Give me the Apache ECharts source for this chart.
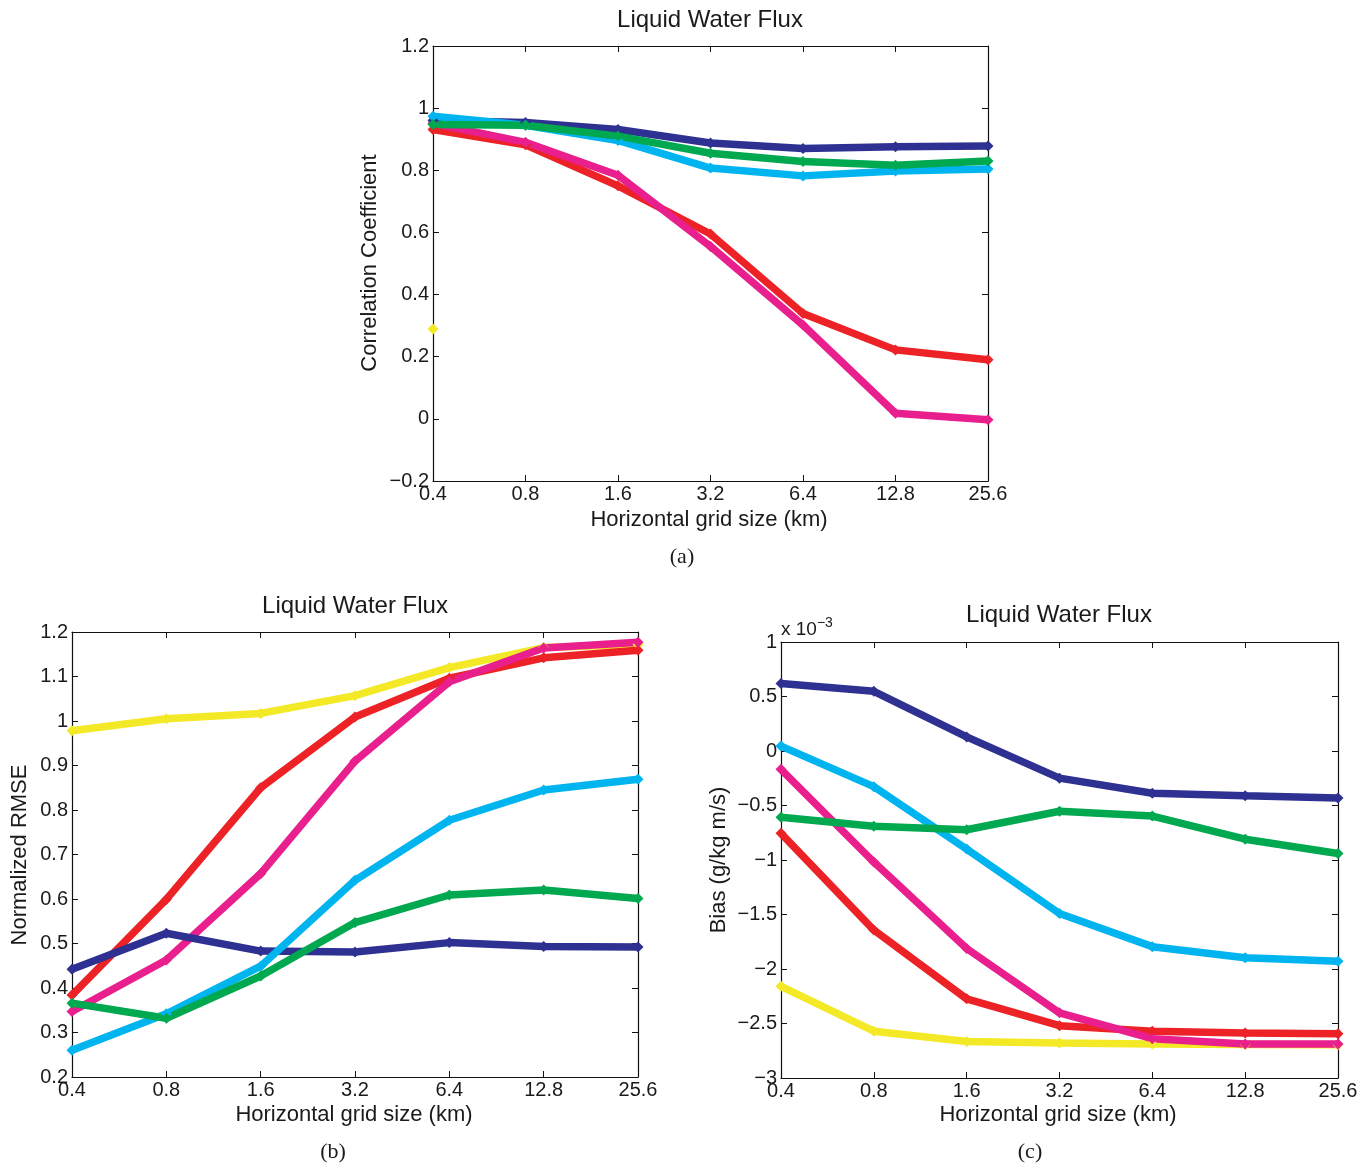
<!DOCTYPE html>
<html><head><meta charset="utf-8">
<script src="https://cdn.jsdelivr.net/npm/echarts@6/dist/echarts.min.js"></script>
<style>html,body{margin:0;padding:0;background:#fff}#c{width:1370px;height:1167px}</style>
</head><body><div id="c"></div>
<script>
// categories
const gridSizes = ['0.4','0.8','1.6','3.2','6.4','12.8','25.6'];

// (a) Correlation coefficient
const corrNavy    = [0.960, 0.954, 0.931, 0.888, 0.870, 0.876, 0.878];
const corrCyan    = [0.974, 0.945, 0.896, 0.807, 0.782, 0.798, 0.804];
const corrGreen   = [0.947, 0.945, 0.910, 0.855, 0.828, 0.816, 0.830];
const corrRed     = [0.931, 0.882, 0.750, 0.595, 0.339, 0.222, 0.190];
const corrMagenta = [0.951, 0.890, 0.784, 0.555, 0.302, 0.018, -0.003];
const corrYellow  = [0.289, null, null, null, null, null, null];

// (b) Normalized RMSE
const rmseNavy    = [0.442, 0.523, 0.483, 0.481, 0.502, 0.493, 0.492];
const rmseCyan    = [0.260, 0.342, 0.449, 0.642, 0.777, 0.845, 0.869];
const rmseGreen   = [0.366, 0.332, 0.427, 0.547, 0.609, 0.620, 0.601];
const rmseRed     = [0.384, 0.599, 0.850, 1.009, 1.096, 1.142, 1.159];
const rmseMagenta = [0.347, 0.463, 0.657, 0.910, 1.088, 1.164, 1.177];
const rmseYellow  = [0.978, 1.005, 1.017, 1.057, 1.120, 1.165, 1.172];

// (c) Bias (x 10^-3)
const biasNavy    = [0.619, 0.548, 0.129, -0.249, -0.387, -0.411, -0.431];
const biasCyan    = [0.045, -0.327, -0.900, -1.491, -1.795, -1.896, -1.930];
const biasGreen   = [-0.607, -0.691, -0.722, -0.553, -0.597, -0.809, -0.941];
const biasRed     = [-0.755, -1.643, -2.274, -2.520, -2.571, -2.588, -2.595];
const biasMagenta = [-0.168, -1.019, -1.812, -2.402, -2.639, -2.689, -2.689];
const biasYellow  = [-2.159, -2.571, -2.666, -2.680, -2.689, -2.692, -2.695];

// y-axis ranges
const corrRange = {min: -0.2, max: 1.2, interval: 0.2};
const rmseRange = {min: 0.2, max: 1.2, interval: 0.1};
const biasRange = {min: -3, max: 1, interval: 0.5};

const COLORS = {navy:'#2e3192', cyan:'#00b4ef', green:'#00a84f', red:'#ec2227', magenta:'#e81f8c', yellow:'#f4e927'};
const FONT = '"Liberation Sans", Arial, Helvetica, sans-serif';
const SERIF = '"Liberation Serif", "Times New Roman", serif';

const grids = [
  {left: 433, top: 46, width: 555, height: 435},
  {left: 72, top: 632, width: 566, height: 445},
  {left: 781, top: 642, width: 557, height: 436}
];

const xAxes = [], yAxes = [];
function fmt(v){ return String(+v.toFixed(3)).replace('-', '\u2212'); }
[corrRange, rmseRange, biasRange].forEach((r, i) => {
  const common = {gridIndex: i, axisLine: {show: true, onZero: false, lineStyle: {color: '#111', width: 1.2}},
    axisTick: {show: true, inside: true, length: 6, lineStyle: {color: '#111'}}, splitLine: {show: false}};
  xAxes.push(Object.assign({type: 'category', data: gridSizes, boundaryGap: false, position: 'bottom',
    axisLabel: {color: '#1a1a1a', fontSize: 20, fontFamily: FONT, margin: 3}}, common));
  xAxes.push(Object.assign({type: 'category', data: gridSizes, boundaryGap: false, position: 'top',
    axisLabel: {show: false}}, common));
  yAxes.push(Object.assign({type: 'value', min: r.min, max: r.max, interval: r.interval, position: 'left',
    axisLabel: {color: '#1a1a1a', fontSize: 20, fontFamily: FONT, margin: 4, formatter: fmt}}, common));
  yAxes.push(Object.assign({type: 'value', min: r.min, max: r.max, interval: r.interval, position: 'right',
    axisLabel: {show: false}}, common));
});

function mk(data, color, gi){
  return {type: 'line', data: data, xAxisIndex: gi*2, yAxisIndex: gi*2, color: color,
    lineStyle: {width: 7.5, color: color}, itemStyle: {color: color},
    symbol: 'diamond', symbolSize: 11, showSymbol: true, connectNulls: false, animation: false, z: 2};
}
const series = [];
const panels = [
  [corrYellow, corrRed, corrMagenta, corrNavy, corrCyan, corrGreen],
  [rmseYellow, rmseRed, rmseMagenta, rmseNavy, rmseCyan, rmseGreen],
  [biasYellow, biasRed, biasMagenta, biasNavy, biasCyan, biasGreen]
];
const order = ['yellow','red','magenta','navy','cyan','green'];
panels.forEach((p, gi) => p.forEach((d, k) => series.push(mk(d, COLORS[order[k]], gi))));

function txt(x, y, text, size, opts){
  opts = opts || {};
  return {type: 'text', x: x, y: y, rotation: opts.rot || 0, z: 10,
    style: {text: text, fontSize: size, fontFamily: opts.font || FONT, fill: '#1a1a1a',
      align: 'center', verticalAlign: 'middle', textAlign: 'center', textVerticalAlign: 'middle'}};
}
const graphic = [
  txt(710, 20, 'Liquid Water Flux', 24),
  txt(355, 606, 'Liquid Water Flux', 24),
  txt(1059, 615, 'Liquid Water Flux', 24),
  txt(370, 263, 'Correlation Coefficient', 22, {rot: Math.PI/2}),
  txt(20, 855, 'Normalized RMSE', 22, {rot: Math.PI/2}),
  txt(719, 860, 'Bias (g/kg m/s)', 22, {rot: Math.PI/2}),
  txt(709, 520, 'Horizontal grid size (km)', 22),
  txt(354, 1115, 'Horizontal grid size (km)', 22),
  txt(1058, 1115, 'Horizontal grid size (km)', 22),
  txt(682, 557, '(a)', 22, {font: SERIF}),
  txt(333, 1152, '(b)', 22, {font: SERIF}),
  txt(1030, 1152, '(c)', 22, {font: SERIF}),
  {type: 'text', x: 781, y: 630, z: 10, style: {
    text: '{b|x 10}{s|\u22123}', fontFamily: FONT, fill: '#1a1a1a', align: 'left', verticalAlign: 'middle',
    rich: {b: {fontSize: 19, fontFamily: FONT, fill: '#1a1a1a'}, s: {fontSize: 14, fontFamily: FONT, fill: '#1a1a1a', padding: [0,0,14,0], verticalAlign: 'top'}}}}
];

const chart = echarts.init(document.getElementById('c'), null, {renderer: 'canvas'});
chart.setOption({animation: false, backgroundColor: '#fff', grid: grids, xAxis: xAxes, yAxis: yAxes, series: series, graphic: graphic});
</script></body></html>
